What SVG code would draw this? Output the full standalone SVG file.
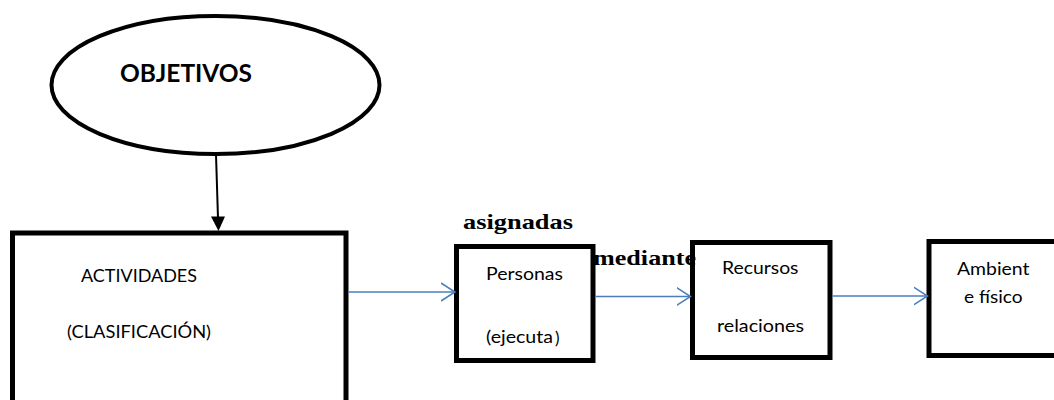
<svg xmlns="http://www.w3.org/2000/svg" width="1054" height="400" viewBox="0 0 1054 400">
<style>
.box{fill:#fff;stroke:#000;stroke-width:5}
.lbl{font-family:Lato,"Liberation Sans",sans-serif;font-size:17px;fill:#000}
.big{font-family:"Liberation Serif",serif;font-weight:bold;font-size:22px;fill:#000}
.blue{stroke:#4a7ebb;stroke-width:1.5;fill:none}
</style>
<defs>
<marker id="open" markerWidth="16" markerHeight="20" refX="14" refY="10" orient="auto" markerUnits="userSpaceOnUse">
<path d="M0,1 L14,10 L0,19" fill="none" stroke="#4a7ebb" stroke-width="1.5"/>
</marker>
</defs>
<rect width="1054" height="400" fill="#fff"/>
<g id="objetivos">
<ellipse cx="215.5" cy="85" rx="164" ry="69" fill="#fff" stroke="#000" stroke-width="4"/>
<text x="120" y="82" font-family="Lato,'Liberation Sans',sans-serif" font-weight="bold" font-size="25" textLength="132" lengthAdjust="spacingAndGlyphs">OBJETIVOS</text>
</g>
<g id="actividades">
<rect class="box" x="12.5" y="233" width="333.5" height="200"/>
<text class="lbl" x="81" y="282" textLength="116" lengthAdjust="spacingAndGlyphs">ACTIVIDADES</text>
<text class="lbl" x="67" y="338" textLength="144" lengthAdjust="spacingAndGlyphs">(CLASIFICACIÓN)</text>
</g>
<g id="personas">
<rect class="box" x="456.5" y="246.5" width="136.5" height="114"/>
<text class="lbl" x="486" y="280" textLength="77" lengthAdjust="spacingAndGlyphs">Personas</text>
<text class="lbl" x="486" y="343" textLength="67" lengthAdjust="spacingAndGlyphs">(ejecuta</text>
<text class="lbl" x="555" y="344" font-size="23">)</text>
</g>
<g id="recursos">
<rect class="box" x="692.5" y="242.5" width="137.5" height="115"/>
<text class="lbl" x="722" y="274" textLength="76.5" lengthAdjust="spacingAndGlyphs">Recursos</text>
<text class="lbl" x="717" y="332" textLength="87" lengthAdjust="spacingAndGlyphs">relaciones</text>
</g>
<g id="ambiente">
<rect class="box" x="929" y="241.5" width="140" height="114"/>
<text class="lbl" x="957" y="275" textLength="72.5" lengthAdjust="spacingAndGlyphs">Ambient</text>
<text class="lbl" x="964" y="303" textLength="58.5" lengthAdjust="spacingAndGlyphs">e físico</text>
</g>
<g id="labels">
<text class="big" x="463" y="229" textLength="110" lengthAdjust="spacingAndGlyphs">asignadas</text>
<text class="big" x="593" y="265" textLength="103" lengthAdjust="spacingAndGlyphs">mediante</text>
</g>
<g id="connectors">
<line x1="216" y1="155" x2="218" y2="218" stroke="#000" stroke-width="2"/>
<polygon points="211,216.5 225,216.5 218.5,231" fill="#000"/>
<line class="blue" x1="348" y1="292" x2="455" y2="292" marker-end="url(#open)"/>
<line class="blue" x1="595" y1="296.5" x2="690.5" y2="296.5" marker-end="url(#open)"/>
<line class="blue" x1="832" y1="296" x2="927.5" y2="296" marker-end="url(#open)"/>
</g>
</svg>
